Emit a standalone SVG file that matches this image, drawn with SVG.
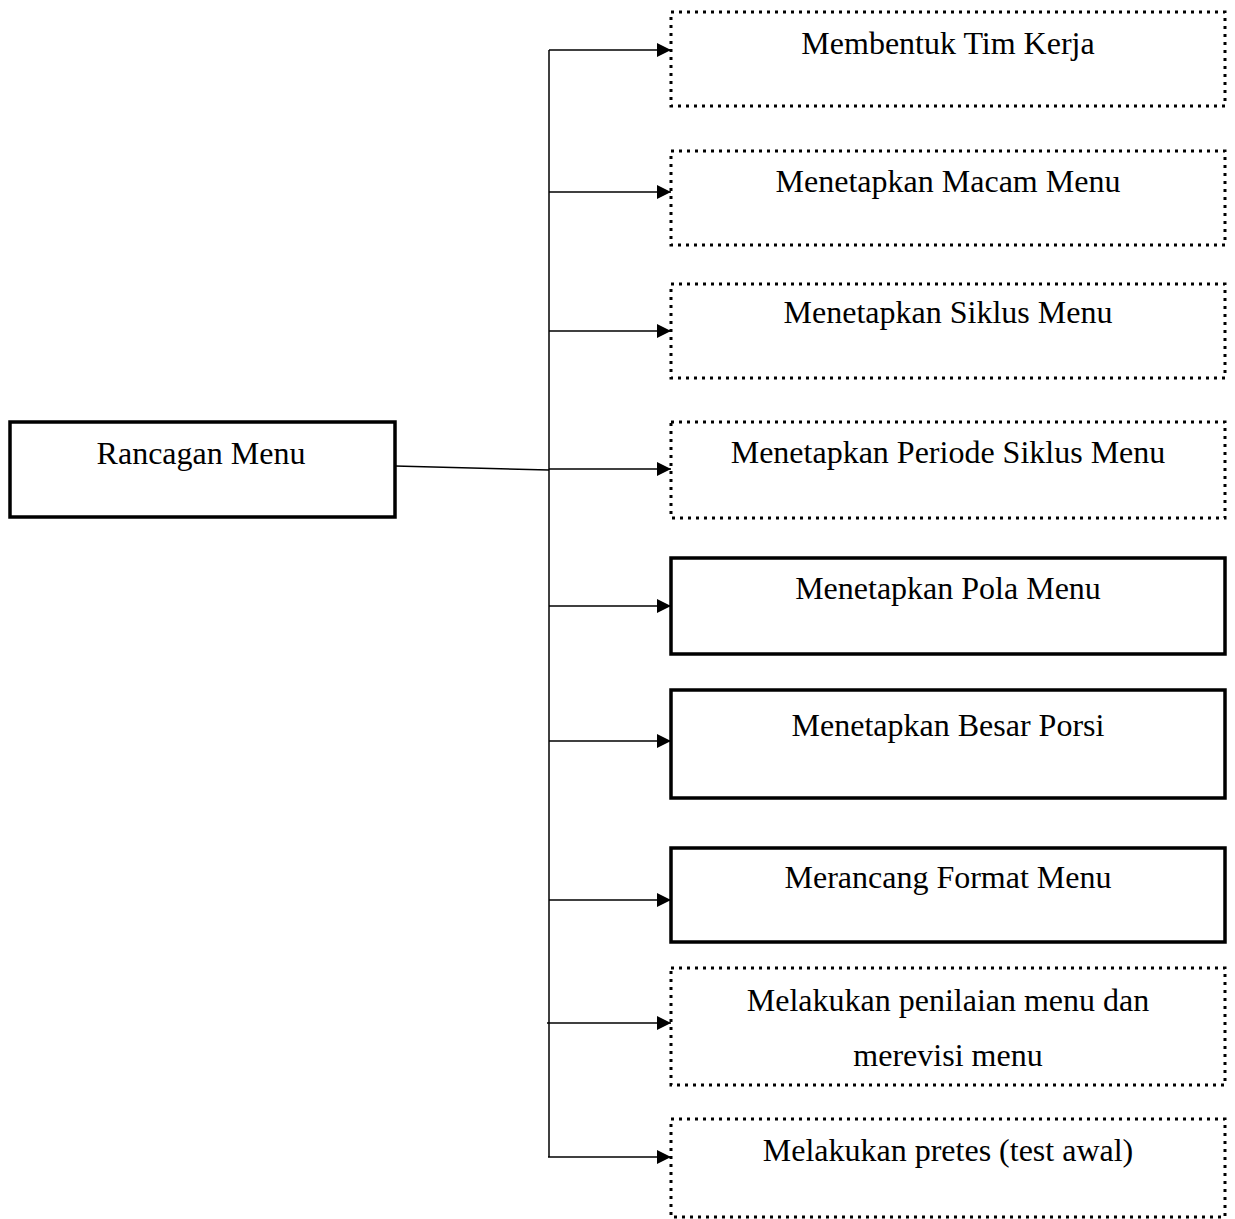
<svg xmlns="http://www.w3.org/2000/svg" width="1235" height="1219" viewBox="0 0 1235 1219">
<style>
.solid{fill:#fff;stroke:#000;stroke-width:3.5}
.dot{fill:#fff;stroke:#000;stroke-width:3;stroke-dasharray:3 5}
.t{font-family:"Liberation Serif","Times New Roman",serif;font-size:32px;fill:#000;text-anchor:middle}
.c{stroke:#000;stroke-width:1.5;fill:none}
</style>
<defs>
<marker id="ah" viewBox="0 0 10 10" refX="10" refY="5" markerWidth="15" markerHeight="14" markerUnits="userSpaceOnUse" orient="auto">
<path d="M0,0 L10,5 L0,10 z" fill="#000"/>
</marker>
</defs>
<g id="connectors">
<line class="c" x1="549" y1="50" x2="549" y2="1157"/>
<line class="c" x1="395" y1="466" x2="549" y2="470"/>
<line class="c" x1="549" y1="50" x2="671" y2="50" marker-end="url(#ah)"/>
<line class="c" x1="549" y1="192" x2="671" y2="192" marker-end="url(#ah)"/>
<line class="c" x1="549" y1="331" x2="671" y2="331" marker-end="url(#ah)"/>
<line class="c" x1="549" y1="469" x2="671" y2="469" marker-end="url(#ah)"/>
<line class="c" x1="549" y1="606" x2="671" y2="606" marker-end="url(#ah)"/>
<line class="c" x1="549" y1="741" x2="671" y2="741" marker-end="url(#ah)"/>
<line class="c" x1="549" y1="900" x2="671" y2="900" marker-end="url(#ah)"/>
<line class="c" x1="547" y1="1023" x2="671" y2="1023" marker-end="url(#ah)"/>
<line class="c" x1="548" y1="1157" x2="671" y2="1157" marker-end="url(#ah)"/>
</g>
<g id="n0"><rect class="solid" x="10" y="422" width="385" height="95"/><text class="t" x="201" y="464">Rancagan Menu</text></g>
<g id="n1"><rect class="dot" x="671" y="12" width="554" height="94"/><text class="t" x="948" y="54">Membentuk Tim Kerja</text></g>
<g id="n2"><rect class="dot" x="671" y="151" width="554" height="94"/><text class="t" x="948" y="192">Menetapkan Macam Menu</text></g>
<g id="n3"><rect class="dot" x="671" y="284" width="554" height="94"/><text class="t" x="948" y="323">Menetapkan Siklus Menu</text></g>
<g id="n4"><rect class="dot" x="671" y="422" width="554" height="96"/><text class="t" x="948" y="463">Menetapkan Periode Siklus Menu</text></g>
<g id="n5"><rect class="solid" x="671" y="558" width="554" height="96"/><text class="t" x="948" y="599">Menetapkan Pola Menu</text></g>
<g id="n6"><rect class="solid" x="671" y="690" width="554" height="108"/><text class="t" x="948" y="736">Menetapkan Besar Porsi</text></g>
<g id="n7"><rect class="solid" x="671" y="848" width="554" height="94"/><text class="t" x="948" y="888">Merancang Format Menu</text></g>
<g id="n8"><rect class="dot" x="671" y="968" width="554" height="117"/><text class="t" x="948" y="1011">Melakukan penilaian menu dan</text><text class="t" x="948" y="1066">merevisi menu</text></g>
<g id="n9"><rect class="dot" x="671" y="1119" width="554" height="98"/><text class="t" x="948" y="1161">Melakukan pretes (test awal)</text></g>
</svg>
